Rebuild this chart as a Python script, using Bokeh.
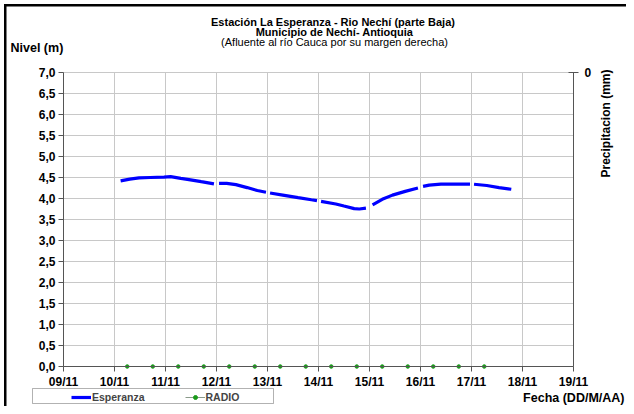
from math import nan, pi
from bokeh.plotting import figure
from bokeh.models import (Range1d, LinearAxis, FixedTicker, Label, Legend, LegendItem,
                          ColumnDataSource, BoxAnnotation)
from bokeh.embed import file_html
from bokeh.resources import INLINE

# ---- data ----
esperanza_day = [10.12, 10.3, 10.48, 10.7, 10.97, 11.1, 11.3, 11.46, 11.7, 11.95, nan,
                 12.05, 12.2, 12.38, 12.6, 12.8, 12.97, nan,
                 13.05, 13.3, 13.6, 13.86, 13.97, nan,
                 14.05, 14.34, 14.5, 14.7, 14.8, 14.93, nan,
                 15.06, 15.25, 15.45, 15.7, 15.95, nan,
                 16.05, 16.17, 16.4, 16.63, 16.85, 16.97, nan,
                 17.05, 17.3, 17.54, 17.78]
esperanza_nivel = [4.42, 4.46, 4.49, 4.50, 4.51, 4.52, 4.48, 4.45, 4.40, 4.35, nan,
                   4.36, 4.36, 4.33, 4.26, 4.19, 4.15, nan,
                   4.13, 4.08, 4.02, 3.97, 3.95, nan,
                   3.93, 3.87, 3.82, 3.76, 3.75, 3.77, nan,
                   3.85, 3.98, 4.08, 4.17, 4.25, nan,
                   4.29, 4.32, 4.34, 4.34, 4.34, 4.34, nan,
                   4.34, 4.31, 4.26, 4.22]
radio_day = [10.25, 10.75, 11.25, 11.75, 12.25, 12.75, 13.25, 13.75,
             14.25, 14.75, 15.25, 15.75, 16.25, 16.75, 17.25]
radio_val = [0, 0, 0, 0, 0, 0, 0, 0, 0, 0, 0, 0, 0, 0, 0]

x_ticks = [9, 10, 11, 12, 13, 14, 15, 16, 17, 18, 19]
x_tick_labels = ["09/11", "10/11", "11/11", "12/11", "13/11", "14/11",
                 "15/11", "16/11", "17/11", "18/11", "19/11"]
y_ticks = [0.0, 0.5, 1.0, 1.5, 2.0, 2.5, 3.0, 3.5, 4.0, 4.5, 5.0, 5.5, 6.0, 6.5, 7.0]
y_tick_labels = ["0,0", "0,5", "1,0", "1,5", "2,0", "2,5", "3,0", "3,5",
                 "4,0", "4,5", "5,0", "5,5", "6,0", "6,5", "7,0"]
precip_ticks = [0]
precip_bounds = (0, 100)

FONT = "Liberation Sans"
W, H = 626, 406
PL, PR, PT, PB = 63, 573, 72, 366   # plot-area edges in canvas pixels
X0, X1 = x_ticks[0], x_ticks[-1]
Y0, Y1 = y_ticks[0], y_ticks[-1]

# canvas pixel -> data helpers (the frame covers the whole canvas)
def to_x(px):
    return X0 + (px - PL) * (X1 - X0) / (PR - PL)

def to_y(py):
    return Y0 + (PB - py) * (Y1 - Y0) / (PB - PT)

def to_p(py):
    b0, b1 = precip_bounds
    return b0 + (py - PT) * (b1 - b0) / (PB - PT)

p = figure(width=W, height=H, output_backend="svg", toolbar_location=None,
           x_range=Range1d(to_x(0), to_x(W)), y_range=Range1d(to_y(H), to_y(0)),
           min_border=0)
p.extra_y_ranges = {"precip": Range1d(start=to_p(H), end=to_p(0))}
p.outline_line_color = None
p.background_fill_alpha = 0
p.border_fill_alpha = 0
p.styles = {
    "background": "linear-gradient(#000, #000) 4px 4px / 2.5px 100% no-repeat, "
                  "linear-gradient(#000, #000) 4px 4px / 100% 2.5px no-repeat"
}
p.xgrid.visible = False
p.ygrid.visible = False

# grid lines limited to the plot area
p.segment(x0=x_ticks, y0=[Y0] * len(x_ticks), x1=x_ticks, y1=[Y1] * len(x_ticks),
          line_color="#c8c8c8", line_width=1)
p.segment(x0=[X0] * len(y_ticks), y0=y_ticks, x1=[X1] * len(y_ticks), y1=y_ticks,
          line_color="#c8c8c8", line_width=1)

def style_axis(ax):
    ax.axis_line_color = "#555555"
    ax.major_tick_line_color = "#555555"
    ax.minor_tick_line_color = None
    ax.major_tick_in = 0
    ax.major_tick_out = 5
    ax.major_label_text_font = FONT
    ax.major_label_text_font_style = "bold"
    ax.major_label_text_font_size = "12px"
    ax.major_label_text_color = "black"

xa = p.xaxis[0]
xa.ticker = FixedTicker(ticks=x_ticks)
xa.major_label_overrides = {t: l for t, l in zip(x_ticks, x_tick_labels)}
xa.major_label_standoff = 3
xa.bounds = (X0, X1)
xa.fixed_location = Y0
style_axis(xa)

ya = p.yaxis[0]
ya.ticker = FixedTicker(ticks=y_ticks)
ya.major_label_overrides = {t: l for t, l in zip(y_ticks, y_tick_labels)}
ya.major_label_standoff = 3
ya.bounds = (Y0, Y1)
ya.fixed_location = X0
style_axis(ya)

ra = LinearAxis(y_range_name="precip", ticker=FixedTicker(ticks=precip_ticks))
style_axis(ra)
ra.major_tick_in = 5
ra.major_label_standoff = 6
ra.bounds = precip_bounds
ra.fixed_location = X1
p.add_layout(ra, "right")

# series
src_e = ColumnDataSource(dict(x=esperanza_day, y=esperanza_nivel))
src_r = ColumnDataSource(dict(x=radio_day, y=radio_val))
r_esp = p.line("x", "y", source=src_e, line_color="#0000ff", line_width=3.2)
r_rad_line = p.line("x", "y", source=src_r, line_color="#8a9a8a", line_width=1)
r_rad_pts = p.scatter("x", "y", source=src_r, marker="circle", size=3.5,
                      fill_color="#1a9a1a", line_color="#1a9a1a")

# legend + its frame
legend = Legend(items=[LegendItem(label="Esperanza", renderers=[r_esp]),
                       LegendItem(label="RADIO", renderers=[r_rad_line, r_rad_pts])],
                orientation="horizontal", location=(71, 3),
                glyph_width=20, glyph_height=10, label_standoff=1, spacing=40,
                padding=2, margin=0,
                label_text_font=FONT, label_text_font_style="bold",
                label_text_font_size="10.5px", label_height=10,
                border_line_color=None, background_fill_alpha=0)
p.add_layout(legend, "center")
p.add_layout(BoxAnnotation(left=to_x(32), right=to_x(273), top=to_y(388), bottom=to_y(403),
                           fill_alpha=0, line_color="black", line_width=1))

# texts
def lab(cx, cy, text, **kw):
    opts = dict(x=to_x(cx), y=to_y(cy), x_units="data", y_units="data", text=text,
                text_font=FONT, text_color="black", text_font_size="11px",
                text_baseline="middle")
    opts.update(kw)
    p.add_layout(Label(**opts))

lab(334, 21, "Estación La Esperanza - Rio Nechí  (parte Baja)", text_align="center",
    text_font_style="bold")
lab(334, 31, "Municipio de Nechí- Antioquia", text_align="center", text_font_style="bold")
lab(334, 41, "(Afluente al río Cauca por su margen derecha)", text_align="center")
lab(10, 47, "Nivel (m)", text_font_style="bold", text_font_size="12.5px")
lab(624, 397, "Fecha (DD/M/AA)", text_align="right", text_font_style="bold",
    text_font_size="12.5px")
lab(605, 123, "Precipitacion (mm)", angle=pi / 2, text_align="center",
    text_font_style="bold", text_font_size="12px")

open("out.html", "w").write(file_html(p, INLINE))
